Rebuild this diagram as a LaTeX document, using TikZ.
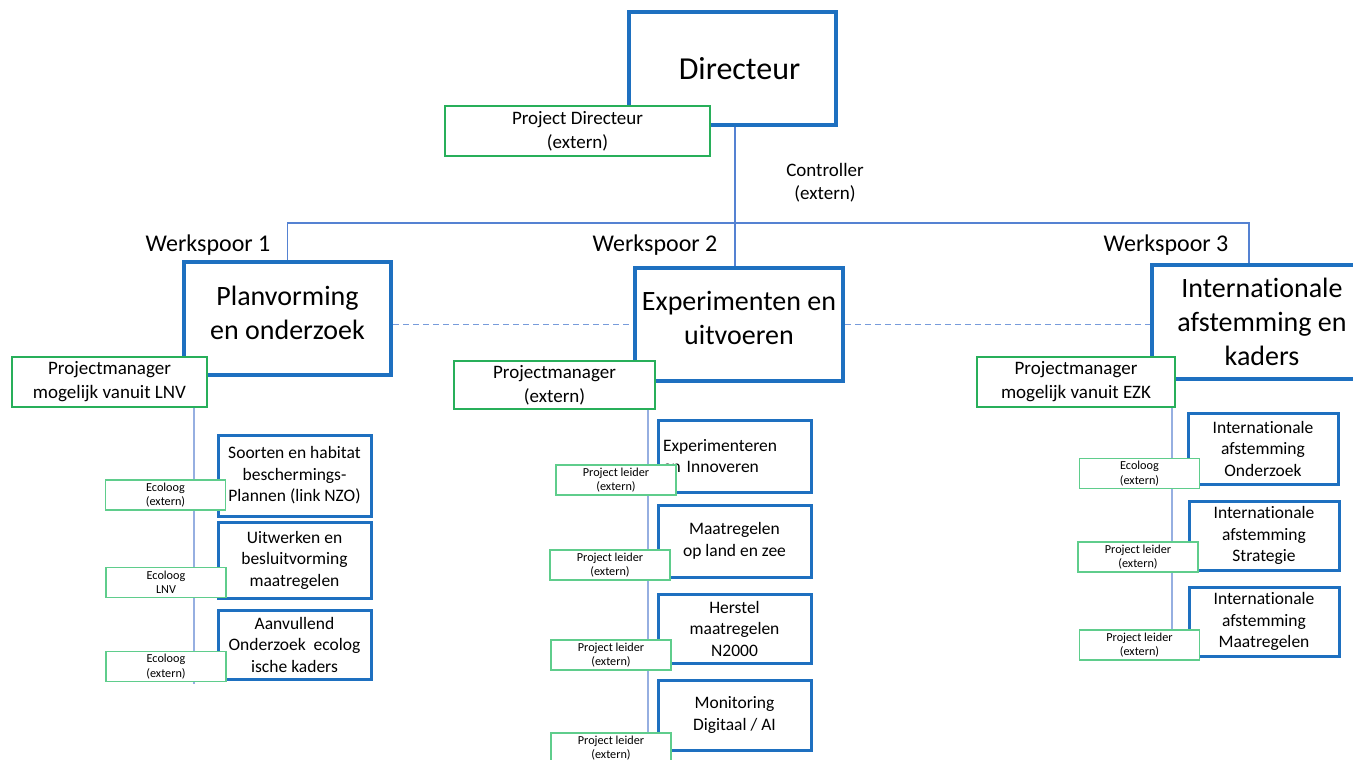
\documentclass[tikz,border=0pt]{standalone}
\usepackage{fontspec}
\setmainfont{Carlito}[Ligatures={NoCommon}]
\definecolor{bblue}{RGB}{30,112,192}
\definecolor{gline}{RGB}{40,175,90}
\definecolor{lgreen}{RGB}{95,205,140}
\definecolor{conn}{RGB}{85,130,210}
\definecolor{lconn}{RGB}{150,175,225}
\begin{document}
\begin{tikzpicture}[x=1pt,y=-1pt,
  bigbox/.style={draw=bblue, line width=4.5pt, fill=white, inner sep=0pt, align=center, font=\fontsize{28}{34}\selectfont},
  subbox/.style={draw=bblue, line width=3pt, fill=white, inner sep=0pt, align=center, minimum width=153pt, font=\fontsize{17.5}{21.5}\selectfont},
  pmbox/.style={draw=gline, line width=1.5pt, fill=white, inner sep=0pt, align=center, font=\fontsize{19}{24}\selectfont},
  smallbox/.style={draw=lgreen, line width=1.2pt, fill=white, inner sep=0pt, align=center, minimum width=120pt, minimum height=30pt, font=\fontsize{12.2}{14.5}\selectfont},
  lbl/.style={inner sep=0pt, align=center},
  busline/.style={draw=conn, line width=1.2pt},
  colline/.style={draw=lconn, line width=1.2pt},
  dashline/.style={draw=conn!80, line width=1.2pt, dash pattern=on 6pt off 4pt}]
\useasboundingbox (0,0) rectangle (1353,760);

% coordinates for connectors
\coordinate (cx) at (735,223);
\coordinate (bL) at (287.5,223);
\coordinate (bR) at (1249,223);
\coordinate (k1) at (194,684);
\coordinate (k2) at (648,775);
\coordinate (k3) at (1172,631);

% big boxes
\node[bigbox, minimum width=207pt, minimum height=113pt] (dir) at (732.5,68.5) {\fontsize{32}{38}\selectfont\hspace*{14pt}Directeur};
\node[bigbox, minimum width=207pt, minimum height=113pt] (plan) at (287.5,318.5) {Planvorming\\en onderzoek\\[-22pt]};
\node[bigbox, minimum width=208pt, minimum height=113pt] (exp) at (739,324.5) {Experimenten en\\uitvoeren\\[-21pt]};
\node[bigbox, minimum width=220pt, minimum height=114pt] (intl) at (1262,322) {Internationale\\afstemming en\\kaders};

% connectors
\draw[busline] (dir.south -| cx) -- (exp.north -| cx);
\draw[busline] (plan.north) -- (bL) -- (bR) -- (bR |- intl.north);
\draw[dashline] (exp.west -| plan.east) -- (exp.west);
\draw[dashline] (exp.east) -- (exp.east -| intl.west);

% labels
\node[lbl, font=\fontsize{24}{28}\selectfont] (w1) at (208,245) {Werkspoor 1};
\node[lbl, font=\fontsize{24}{28}\selectfont] (w2) at (655,245) {Werkspoor 2};
\node[lbl, font=\fontsize{24}{28}\selectfont] (w3) at (1166,245) {Werkspoor 3};
\node[lbl, font=\fontsize{19}{23}\selectfont] (ctrl) at (825,183) {Controller\\(extern)};

% project directeur
\node[pmbox, minimum width=265pt, minimum height=50pt] (pd) at (577.5,131) {Project Directeur\\(extern)};

% projectmanagers
\node[pmbox, minimum width=195pt, minimum height=50pt] (pm1) at (109.5,382) {Projectmanager\\mogelijk vanuit LNV};
\node[pmbox, minimum width=201pt, minimum height=48pt] (pm2) at (554.5,385) {Projectmanager\\(extern)};
\node[pmbox, minimum width=198pt, minimum height=50pt] (pm3) at (1076,382) {Projectmanager\\mogelijk vanuit EZK};

% column lines
\draw[colline] (pm1.south -| k1) -- (k1);
\draw[colline] (pm2.south -| k2) -- (k2);
\draw[colline] (pm3.south -| k3) -- (k3);

% sub boxes left
\node[subbox, minimum height=81pt] (s11) at (294.5,475.5) {Soorten en habitat\\beschermings-\\Plannen (link NZO)};
\node[subbox, minimum height=76pt] (s12) at (294.5,560) {Uitwerken en\\besluitvorming\\maatregelen};
\node[subbox, minimum height=69pt] (s13) at (294.5,644.5) {Aanvullend\\Onderzoek\ \ ecolog\\ische kaders};
% sub boxes middle
\node[subbox, minimum height=72pt, text width=143pt, align=left] (s21) at (734.5,456) {Experimenteren\\en Innoveren\\[-14pt]};
\node[subbox, minimum height=72pt] (s22) at (734.5,541) {Maatregelen\\op land en zee};
\node[subbox, minimum height=69pt] (s23) at (734.5,628.5) {Herstel\\maatregelen\\N2000};
\node[subbox, minimum height=70pt] (s24) at (734.5,715) {Monitoring\\Digitaal / AI};
% sub boxes right
\node[subbox, minimum width=150pt, minimum height=71pt] (s31) at (1263,448.5) {Internationale\\afstemming\\Onderzoek};
\node[subbox, minimum width=150pt, minimum height=69pt] (s32) at (1264,535.5) {Internationale\\afstemming\\Strategie};
\node[subbox, minimum width=150pt, minimum height=69pt] (s33) at (1264,621.5) {Internationale\\afstemming\\Maatregelen};

% small green boxes
\node[smallbox] (e11) at (165.5,495) {Ecoloog\\(extern)};
\node[smallbox] (e12) at (166,582.5) {Ecoloog\\LNV};
\node[smallbox] (e13) at (166,666.5) {Ecoloog\\(extern)};
\node[smallbox] (p21) at (616,480) {Project leider\\(extern)};
\node[smallbox] (p22) at (610,565) {Project leider\\(extern)};
\node[smallbox] (p23) at (611,655) {Project leider\\(extern)};
\node[smallbox] (p24) at (611,748) {Project leider\\(extern)};
\node[smallbox] (e31) at (1139.5,473.5) {Ecoloog\\(extern)};
\node[smallbox] (p32) at (1138,557) {Project leider\\(extern)};
\node[smallbox] (p33) at (1139.5,645) {Project leider\\(extern)};
\end{tikzpicture}
\end{document}
